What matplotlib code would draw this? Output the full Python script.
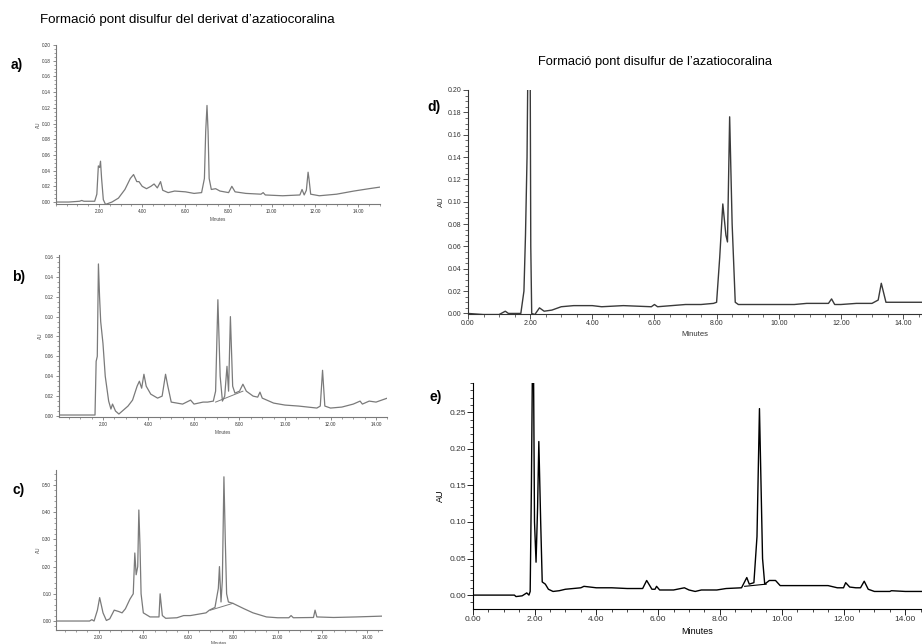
import matplotlib
matplotlib.use("Agg")
import matplotlib.pyplot as plt
from matplotlib.ticker import MultipleLocator, FixedLocator

plt.rcParams['font.family'] = ['Liberation Sans', 'DejaVu Sans']

W, H = 922, 644

# ---- chromatogram traces (time in minutes, absorbance in AU) ----
t_a = [0.0, 0.6, 1.1, 1.2, 1.3, 1.8, 1.9, 1.97, 2.03, 2.07, 2.12, 2.2, 2.3, 2.4, 2.6, 2.9, 3.2,
       3.45, 3.6, 3.75, 3.85, 4.0, 4.2, 4.4, 4.55, 4.7, 4.85, 4.95, 5.2, 5.5, 6.0, 6.4, 6.75,
       6.88, 6.94, 7.0, 7.05, 7.1, 7.2, 7.4, 7.6, 8.0, 8.15, 8.3, 8.8, 9.5, 9.6, 9.7, 10.5,
       11.3, 11.4, 11.5, 11.6, 11.68, 11.72, 11.8, 12.2, 13.0, 13.8, 14.5, 15.0]
au_a = [0.000, 0.000, 0.001, 0.002, 0.001, 0.001, 0.010, 0.046, 0.044, 0.052, 0.030, 0.003, -0.003,
        -0.002, 0.000, 0.005, 0.016, 0.030, 0.035, 0.026, 0.026, 0.020, 0.017, 0.020, 0.023,
        0.018, 0.026, 0.015, 0.012, 0.014, 0.013, 0.011, 0.012, 0.030, 0.090, 0.123, 0.090,
        0.030, 0.016, 0.017, 0.014, 0.012, 0.020, 0.013, 0.011, 0.010, 0.012, 0.009, 0.008,
        0.009, 0.016, 0.009, 0.015, 0.038, 0.030, 0.010, 0.008, 0.010, 0.014, 0.017, 0.019]

t_b = [0.0, 1.0, 1.65, 1.7, 1.75, 1.8, 1.85, 1.9, 2.0, 2.1, 2.25, 2.35, 2.42, 2.55, 2.7, 2.9,
       3.1, 3.3, 3.5, 3.6, 3.7, 3.8, 3.9, 4.1, 4.4, 4.6, 4.75, 4.85, 5.0, 5.5, 5.85, 6.0, 6.2,
       6.4, 6.6, 6.85, 6.95, 7.05, 7.15, 7.25, 7.35, 7.45, 7.52, 7.6, 7.7, 7.8, 8.0, 8.15,
       8.3, 8.6, 8.8, 8.9, 9.0, 9.5, 10.0, 10.6, 11.4, 11.55, 11.65, 11.75, 12.0, 12.5, 13.0,
       13.3, 13.4, 13.7, 14.0, 14.5]
au_b = [0.001, 0.001, 0.001, 0.055, 0.060, 0.153, 0.120, 0.095, 0.073, 0.040, 0.015, 0.007,
        0.012, 0.005, 0.002, 0.006, 0.010, 0.016, 0.030, 0.035, 0.028, 0.042, 0.030, 0.022,
        0.018, 0.020, 0.042, 0.030, 0.014, 0.012, 0.016, 0.012, 0.013, 0.014, 0.014, 0.015,
        0.025, 0.117, 0.040, 0.015, 0.020, 0.050, 0.025, 0.100, 0.030, 0.023, 0.025, 0.032,
        0.025, 0.020, 0.019, 0.024, 0.018, 0.013, 0.011, 0.010, 0.008, 0.010, 0.046, 0.010,
        0.008, 0.009, 0.012, 0.015, 0.012, 0.015, 0.014, 0.018]
# integration baseline under the 7-8 min cluster
tb_base = [6.95, 8.15]
aub_base = [0.014, 0.025]

t_c = [0.1, 1.6, 1.7, 1.8, 1.95, 2.05, 2.2, 2.35, 2.5, 2.7, 2.9, 3.05, 3.2, 3.4, 3.55, 3.62,
       3.68, 3.75, 3.8, 3.85, 3.9, 4.0, 4.3, 4.7, 4.75, 4.85, 5.0, 5.5, 5.8, 6.1, 6.45, 6.8,
       6.95, 7.2, 7.35, 7.4, 7.47, 7.53, 7.6, 7.66, 7.72, 7.8, 8.0, 8.5, 8.9, 9.5, 10.0, 10.5,
       10.6, 10.7, 11.6, 11.67, 11.75, 12.5, 13.5, 14.66]
au_c = [0.000, 0.000, 0.005, 0.000, 0.040, 0.086, 0.030, 0.002, 0.008, 0.040, 0.035, 0.030,
        0.045, 0.080, 0.100, 0.250, 0.170, 0.200, 0.408, 0.280, 0.100, 0.030, 0.015, 0.015,
        0.100, 0.020, 0.010, 0.012, 0.020, 0.020, 0.025, 0.030, 0.040, 0.050, 0.120, 0.200,
        0.070, 0.150, 0.530, 0.300, 0.100, 0.070, 0.065, 0.045, 0.030, 0.015, 0.012, 0.012,
        0.020, 0.012, 0.013, 0.040, 0.015, 0.013, 0.015, 0.018]
tc_base = [7.0, 8.0]
auc_base = [0.040, 0.065]

t_d = [0.0, 0.5, 1.0, 1.2, 1.3, 1.7, 1.8, 1.85, 1.9, 1.93, 2.0, 2.02, 2.05, 2.15, 2.3, 2.45,
       2.7, 3.0, 3.4, 4.0, 4.3, 5.0, 5.9, 6.0, 6.1, 7.0, 7.5, 7.9, 8.0, 8.1, 8.2, 8.3, 8.35,
       8.42, 8.5, 8.6, 8.7, 9.5, 10.5, 10.9, 11.6, 11.7, 11.8, 12.0, 12.5, 13.0, 13.2, 13.3,
       13.45, 14.0, 14.6]
au_d = [0.000, -0.001, -0.001, 0.002, 0.000, 0.000, 0.020, 0.070, 0.140, 0.230, 0.230, 0.060,
        0.000, -0.001, 0.005, 0.002, 0.003, 0.006, 0.007, 0.007, 0.006, 0.007, 0.006, 0.008,
        0.006, 0.008, 0.008, 0.009, 0.010, 0.050, 0.098, 0.070, 0.064, 0.176, 0.080, 0.010,
        0.008, 0.008, 0.008, 0.009, 0.009, 0.013, 0.008, 0.008, 0.009, 0.009, 0.012, 0.027,
        0.010, 0.010, 0.010]

t_e = [0.0, 1.35, 1.4, 1.6, 1.75, 1.82, 1.86, 1.9, 1.93, 1.97, 2.0, 2.05, 2.1, 2.14, 2.2,
       2.25, 2.35, 2.45, 2.6, 2.8, 3.0, 3.5, 3.6, 4.0, 4.5, 5.0, 5.5, 5.63, 5.8, 5.9, 5.95,
       6.05, 6.5, 6.85, 7.0, 7.2, 7.4, 7.9, 8.2, 8.7, 8.87, 8.95, 9.1, 9.2, 9.28, 9.38, 9.45,
       9.6, 9.8, 9.95, 10.5, 11.5, 11.8, 12.0, 12.07, 12.2, 12.4, 12.55, 12.67, 12.8, 13.0,
       13.5, 13.55, 14.0, 14.55]
au_e = [0.000, 0.000, -0.002, -0.001, 0.003, 0.000, 0.005, 0.150, 0.300, 0.300, 0.100, 0.045,
        0.120, 0.210, 0.100, 0.018, 0.015, 0.008, 0.005, 0.006, 0.008, 0.010, 0.012, 0.010,
        0.010, 0.009, 0.009, 0.020, 0.008, 0.008, 0.012, 0.007, 0.007, 0.010, 0.007, 0.005,
        0.007, 0.007, 0.009, 0.010, 0.024, 0.015, 0.017, 0.080, 0.255, 0.050, 0.015, 0.020,
        0.020, 0.013, 0.013, 0.013, 0.010, 0.010, 0.017, 0.011, 0.010, 0.010, 0.019, 0.008,
        0.005, 0.005, 0.006, 0.005, 0.005]
te_base = [8.8, 9.5]
aue_base = [0.012, 0.015]

x_ticks = [0, 2, 4, 6, 8, 10, 12, 14]
x_tick_labels = ["0.00", "2.00", "4.00", "6.00", "8.00", "10.00", "12.00", "14.00"]

fig = plt.figure(figsize=(W / 100, H / 100), dpi=100)


def add_ax(left, top, right, bottom):
    return fig.add_axes([left / W, 1 - bottom / H, (right - left) / W, (bottom - top) / H])


def style(ax, xlim, ylim, ystep, yminor, fs, color, show_zero_x, xminor=0.5, tick_len=2.5):
    ax.set_xlim(*xlim)
    ax.set_ylim(*ylim)
    for s in ("top", "right"):
        ax.spines[s].set_visible(False)
    for s in ("left", "bottom"):
        ax.spines[s].set_color(color)
        ax.spines[s].set_linewidth(0.8)
    ticks = [t for t in x_ticks if (show_zero_x or t > 0)]
    ax.xaxis.set_major_locator(FixedLocator(ticks))
    ax.set_xticklabels([x_tick_labels[x_ticks.index(t)] for t in ticks])
    ax.xaxis.set_minor_locator(MultipleLocator(xminor))
    ax.yaxis.set_major_locator(MultipleLocator(ystep))
    ax.yaxis.set_minor_locator(MultipleLocator(yminor))
    ax.yaxis.set_major_formatter(matplotlib.ticker.FuncFormatter(lambda v, p: f"{v:.2f}"))
    ax.tick_params(which="major", length=tick_len, width=0.6, color=color,
                   labelsize=fs, labelcolor="#333333", pad=1)
    ax.tick_params(which="minor", length=tick_len * 0.6, width=0.5, color=color)
    ax.patch.set_alpha(0)


# ---- left column: derivative ----
grey = "#7a7a7a"
ax_a = add_ax(55.8, 45, 379.8, 204)
ax_a.plot(t_a, au_a, color=grey, lw=0.9)
style(ax_a, (0, 15), (-0.0025, 0.20), 0.02, 0.005, 3.3, grey, False)
ax_a.set_ylabel("AU", fontsize=3.3, labelpad=1, color="#444444")
ax_a.set_xlabel("Minutes", fontsize=3.3, labelpad=2, color="#444444")

ax_b = add_ax(58.6, 255, 387.4, 417)
ax_b.plot(t_b, au_b, color=grey, lw=0.9)
ax_b.plot(tb_base, aub_base, color=grey, lw=0.7)
style(ax_b, (0.05, 14.5), (-0.001, 0.162), 0.02, 0.005, 3.3, grey, False)
ax_b.set_ylabel("AU", fontsize=3.3, labelpad=1, color="#444444")
ax_b.set_xlabel("Minutes", fontsize=3.3, labelpad=2, color="#444444")

ax_c = add_ax(56, 470, 382, 630)
ax_c.plot(t_c, au_c, color=grey, lw=0.9)
ax_c.plot(tc_base, auc_base, color=grey, lw=0.7)
style(ax_c, (0.1, 14.66), (-0.033, 0.555), 0.10, 0.02, 3.3, grey, False)
ax_c.set_ylabel("AU", fontsize=3.3, labelpad=1, color="#444444")
ax_c.set_xlabel("Minutes", fontsize=3.3, labelpad=0.5, color="#444444")

# ---- right column: parent compound ----
ax_d = add_ax(468, 90, 922, 314)
ax_d.plot(t_d, au_d, color="#3a3a3a", lw=1.0)
style(ax_d, (0, 14.61), (-0.0005, 0.20), 0.02, 0.005, 5.0, "#333333", True, tick_len=3.5)
ax_d.set_ylabel("AU", fontsize=5.5, labelpad=2, color="#333333")
ax_d.set_xlabel("Minutes", fontsize=5.5, labelpad=3, color="#333333")

ax_e = add_ax(472.7, 383, 922, 609)
ax_e.plot(t_e, au_e, color="black", lw=1.0)
ax_e.plot(te_base, aue_base, color="black", lw=0.8)
style(ax_e, (0, 14.54), (-0.019, 0.29), 0.05, 0.01, 6.0, "black", True, tick_len=4)
ax_e.set_ylabel("AU", fontsize=6.5, labelpad=3)
ax_e.set_xlabel("Minutes", fontsize=6.5, labelpad=3)

# ---- titles and panel letters ----
fig.text(40 / W, 1 - 20 / H, "Formació pont disulfur del derivat d’azatiocoralina",
         fontsize=9.6, va="center", ha="left")
fig.text(655 / W, 1 - 62 / H, "Formació pont disulfur de l’azatiocoralina",
         fontsize=9.3, va="center", ha="center")

for lbl, x, y in [("a)", 11, 65), ("b)", 12, 277), ("c)", 12, 490),
                  ("d)", 427, 107), ("e)", 429, 397)]:
    fig.text(x / W, 1 - y / H, lbl, fontsize=10, fontweight="bold", va="center", ha="left")

fig.savefig("out.png", dpi=100)
